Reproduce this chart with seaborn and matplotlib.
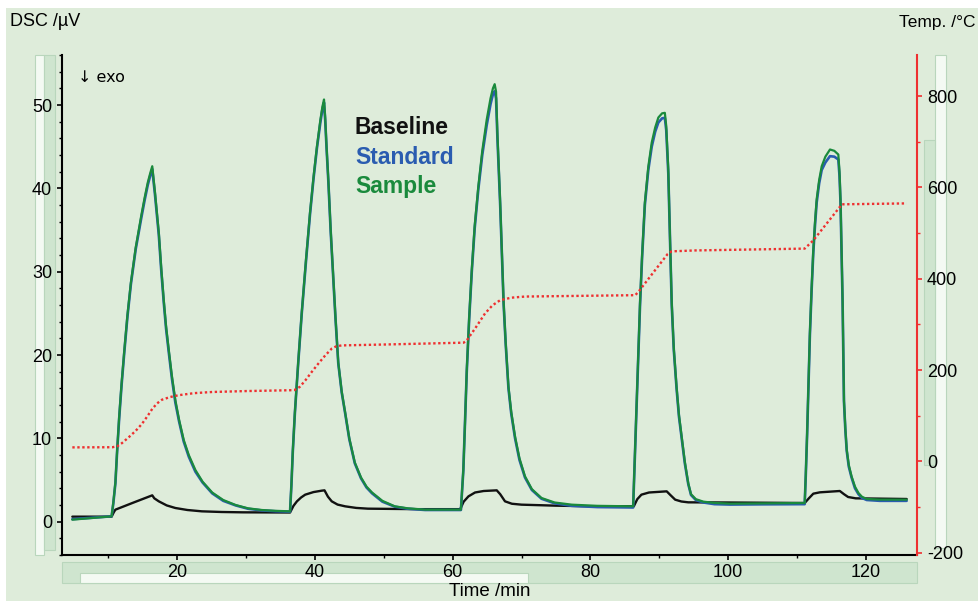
import matplotlib
matplotlib.use("Agg")
import matplotlib.pyplot as plt
from matplotlib.patches import Rectangle
from matplotlib.ticker import MultipleLocator
import seaborn as sns
import pandas as pd

# ---------------- data ----------------
t_dsc = [4.8, 10.5, 10.75, 11.05, 11.3, 11.6, 11.95, 12.35, 12.8, 13.3, 14.0, 14.8, 15.3, 15.75, 16.1, 16.4,
         16.8, 17.35, 17.7, 18.07, 18.4, 18.8, 19.25, 19.75, 20.3, 20.97, 21.7, 22.66, 23.7, 25.1, 26.7, 28.5,
         30.3, 32.3, 34.3, 36.4,
         36.6, 36.8, 37.1, 37.6, 38.1, 38.7, 39.3, 39.8, 40.3, 40.8, 41.1, 41.33, 41.5, 41.7, 41.96, 42.3, 42.7,
         43.0, 43.4, 43.9, 44.4, 45.0, 45.8, 46.7, 47.5, 48.3, 49.8, 51.6, 53.5, 56.0, 61.2,
         61.35, 61.55, 61.8, 62.05, 62.4, 62.78, 63.2, 63.73, 64.3, 64.95, 65.5, 65.85, 66.1, 66.3, 66.5, 66.9,
         67.4, 67.7, 68.1, 68.5, 69.06, 69.7, 70.5, 71.5, 72.9, 74.8, 77.3, 81.0, 86.2,
         86.35, 86.5, 86.7, 86.95, 87.2, 87.5, 87.9, 88.4, 88.9, 89.4, 89.86, 90.4, 90.8, 91.0, 91.3, 91.55,
         91.8, 92.1, 92.5, 92.85, 93.25, 93.7, 94.2, 94.6, 95.3, 96.4, 98.0, 100.3, 105.0, 111.1,
         111.25, 111.45, 111.65, 111.85, 112.1, 112.35, 112.6, 112.84, 113.2, 113.57, 114.1, 114.77, 115.4,
         115.98, 116.15, 116.3, 116.45, 116.6, 116.7, 116.8, 117.0, 117.2, 117.5, 117.9, 118.4, 118.9, 119.4,
         120.1, 122.0, 125.9]

sample = [0.24, 0.64, 2.3, 4.7, 8.5, 12.6, 16.6, 20.6, 24.8, 28.7, 32.9, 36.7, 38.9, 40.7, 41.8, 42.65,
          39.5, 34.7, 30.5, 26.6, 23.5, 20.6, 17.5, 14.6, 12.2, 9.8, 8.0, 6.2, 4.8, 3.5, 2.6, 2.0,
          1.6, 1.4, 1.3, 1.24,
          4.5, 8.5, 13.1, 19.3, 25.1, 31.3, 37.1, 41.3, 45.0, 48.2, 49.8, 50.66, 48.5, 45.0, 41.0, 35.0, 29.0,
          24.5, 19.1, 15.6, 13.1, 10.0, 7.1, 5.3, 4.2, 3.5, 2.5, 1.84, 1.6, 1.44, 1.44,
          3.5, 6.2, 12.0, 18.2, 24.5, 30.25, 35.5, 40.25, 44.5, 48.26, 50.8, 52.0, 52.5, 51.6, 46.5, 38.3,
          26.3, 21.5, 16.2, 13.2, 10.2, 7.6, 5.44, 3.9, 2.84, 2.3, 2.04, 1.9, 1.84,
          5.5, 9.5, 14.3, 20.5, 26.3, 32.0, 38.3, 42.6, 45.5, 47.3, 48.5, 49.0, 49.06, 47.5, 42.3, 34.0,
          26.3, 20.8, 16.2, 12.8, 10.2, 7.2, 4.6, 3.3, 2.7, 2.4, 2.25, 2.16, 2.2, 2.24,
          5.5, 10.6, 16.6, 22.6, 28.0, 32.65, 36.0, 38.7, 41.0, 42.65, 43.8, 44.66, 44.5,
          44.06, 42.0, 38.66, 32.5, 26.65, 20.5, 14.6, 11.2, 8.64, 6.8, 5.44, 4.2, 3.44, 3.0,
          2.72, 2.65, 2.64]

standard = [0.3, 0.64, 2.2, 4.6, 8.4, 12.4, 16.4, 20.4, 24.6, 28.5, 32.7, 36.4, 38.6, 40.4, 41.5, 42.3,
            39.2, 34.4, 30.2, 26.3, 23.2, 20.3, 17.2, 14.3, 12.0, 9.6, 7.8, 6.0, 4.7, 3.4, 2.5, 1.95,
            1.55, 1.35, 1.25, 1.2,
            4.4, 8.4, 13.0, 19.2, 25.0, 31.1, 36.9, 41.1, 44.8, 47.9, 49.5, 50.3, 48.2, 44.8, 40.8, 34.8, 28.8,
            24.3, 19.0, 15.5, 13.0, 9.9, 7.0, 5.2, 4.1, 3.4, 2.4, 1.8, 1.55, 1.4, 1.4,
            3.4, 6.1, 11.9, 18.0, 24.3, 30.0, 35.2, 39.9, 44.0, 47.6, 50.1, 51.3, 51.65, 50.8, 46.0, 38.0,
            26.1, 21.3, 16.0, 13.0, 10.0, 7.4, 5.3, 3.8, 2.75, 2.2, 1.9, 1.75, 1.7,
            5.4, 9.4, 14.1, 20.3, 26.0, 31.7, 38.0, 42.2, 45.0, 46.8, 47.9, 48.4, 48.46, 47.0, 41.8, 33.7,
            26.0, 20.6, 16.0, 12.6, 10.0, 7.0, 4.5, 3.2, 2.6, 2.3, 2.1, 2.05, 2.08, 2.1,
            5.4, 10.4, 16.4, 22.3, 27.7, 32.3, 35.6, 38.3, 40.6, 42.2, 43.1, 43.86, 43.8,
            43.46, 41.5, 38.2, 32.2, 26.3, 20.3, 14.4, 11.0, 8.5, 6.6, 5.3, 4.0, 3.3, 2.85,
            2.6, 2.5, 2.5]

t_base = [4.8, 10.5, 10.8, 11.05, 13.7, 16.4, 16.7, 17.35, 18.5, 19.75, 21.5, 23.6, 26.5, 29.6, 36.4,
          36.9, 37.4, 38.0, 38.6, 39.8, 41.0, 41.4, 41.9, 42.45, 43.3, 44.4, 46.0, 47.7, 55.0, 61.1,
          61.6, 62.3, 63.25, 64.5, 66.4, 66.9, 67.6, 68.6, 70.0, 75.0, 80.0, 86.3,
          86.8, 87.4, 88.5, 91.07, 91.6, 92.3, 93.2, 94.2, 100.0, 111.1,
          111.7, 112.35, 113.3, 116.2, 116.8, 117.4, 118.5, 125.9]
baseline = [0.6, 0.6, 1.1, 1.44, 2.3, 3.16, 2.8, 2.44, 1.95, 1.64, 1.4, 1.24, 1.16, 1.12, 1.1,
            1.9, 2.44, 2.9, 3.24, 3.55, 3.72, 3.76, 3.0, 2.44, 2.05, 1.84, 1.65, 1.56, 1.5, 1.5,
            2.4, 3.04, 3.5, 3.68, 3.76, 3.3, 2.44, 2.15, 2.04, 1.92, 1.85, 1.85,
            2.7, 3.24, 3.5, 3.64, 3.2, 2.64, 2.42, 2.32, 2.3, 2.24,
            2.8, 3.36, 3.52, 3.68, 3.3, 2.96, 2.8, 2.72]

t_temp = [4.8, 10.6, 11.3, 12.0, 13.0, 14.0, 14.9, 15.7, 16.4, 17.1, 17.8, 19.0, 20.25, 22.5, 25.1, 30.0,
          37.0, 37.8, 38.6, 39.5, 40.5, 41.5, 42.45, 43.1, 43.9, 50.2, 61.6,
          62.05, 63.3, 64.7, 65.8, 66.9, 68.5, 70.5, 86.5,
          87.0, 89.4, 91.2, 91.8, 95.2, 111.1,
          112.35, 116.5, 125.9]
temperature = [30.7, 31.0, 33.0, 40.0, 53.0, 67.0, 82.0, 99.0, 115.0, 127.0, 135.0, 141.0, 145.0, 149.5, 152.0,
               154.0, 156.0, 163.0, 177.0, 195.0, 214.0, 232.0, 247.0, 252.0, 254.0, 256.0, 260.0,
               265.0, 292.0, 324.0, 342.0, 353.0, 358.5, 361.0, 364.0,
               372.0, 419.0, 454.0, 460.0, 462.0, 466.0,
               484.0, 563.0, 565.0]

legend_labels = ["Baseline", "Standard", "Sample"]
x_ticks = [20, 40, 60, 80, 100, 120]
y_ticks = [0, 10, 20, 30, 40, 50]
y2_ticks = [-200, 0, 200, 400, 600, 800]

# ---------------- styling ----------------
BG = "#deecda"
STRIP = "#cfe5cf"
STRIP_EDGE = "#b9d6bc"
WHITE_BAR = "#f4faf3"
C_BASE = "#111111"
C_STD = "#2a5cb0"
C_SMP = "#1a8a3c"
C_TEMP = "#ee3030"
FONT = "Liberation Sans"

W, H = 979, 601
fig = plt.figure(figsize=(W / 100, H / 100), dpi=100)
fig.patch.set_facecolor(BG)


def prect(x0, y0, x1, y1, fc, ec=None):
    fig.patches.append(Rectangle((x0 / W, 1 - y1 / H), (x1 - x0) / W, (y1 - y0) / H,
                                 transform=fig.transFigure, facecolor=fc,
                                 edgecolor=ec if ec else "none", linewidth=0.8, zorder=-5))


# white frame at top/left
prect(0, 0, W, 8, "white")
prect(0, 0, 6, H, "white")
# decorative scroll strips
prect(35, 55, 44, 555, WHITE_BAR, STRIP_EDGE)
prect(44, 55, 55, 550, STRIP, STRIP_EDGE)
prect(62, 562, 917, 583, STRIP, STRIP_EDGE)
prect(80, 573, 528, 583, WHITE_BAR, STRIP_EDGE)
prect(935, 55, 946, 548, WHITE_BAR, STRIP_EDGE)
prect(924, 140, 935, 465, STRIP, STRIP_EDGE)

ax = fig.add_axes([62 / W, (H - 555) / H, (917 - 62) / W, 500 / H])
ax.set_facecolor(BG)
ax2 = ax.twinx()

df_b = pd.DataFrame({"t": t_base, "v": baseline})
df_s = pd.DataFrame({"t": t_dsc, "std": standard, "smp": sample})
df_t = pd.DataFrame({"t": t_temp, "T": temperature})

sns.lineplot(data=df_b, x="t", y="v", ax=ax, color=C_BASE, lw=1.7, estimator=None, sort=False, legend=False)
sns.lineplot(data=df_s, x="t", y="std", ax=ax, color=C_STD, lw=1.9, estimator=None, sort=False, legend=False)
sns.lineplot(data=df_s, x="t", y="smp", ax=ax, color=C_SMP, lw=1.6, estimator=None, sort=False, legend=False)
sns.lineplot(data=df_t, x="t", y="T", ax=ax2, color=C_TEMP, lw=1.7, estimator=None, sort=False, legend=False)
ax2.lines[0].set_dashes((1, 1.1))
for ln in ax.lines:
    ln.set_solid_joinstyle("round")
    ln.set_solid_capstyle("round")

ax.set_xlim(3.3, 127.4)
ax.set_ylim(-4, 56)
ax2.set_ylim(-205, 890)

ax.set_xticks(x_ticks)
ax.set_xticklabels([str(v) for v in x_ticks])
ax.set_yticks(y_ticks)
ax.set_yticklabels([str(v) for v in y_ticks])
ax2.set_yticks(y2_ticks)
ax2.set_yticklabels([str(v) for v in y2_ticks])
ax.xaxis.set_minor_locator(MultipleLocator(10))
ax.yaxis.set_minor_locator(MultipleLocator(2))
ax2.yaxis.set_minor_locator(MultipleLocator(100))

ax.set_xlabel("")
ax.set_ylabel("")
ax2.set_ylabel("")

for a in (ax, ax2):
    for s in a.spines.values():
        s.set_visible(False)
ax.spines["left"].set_visible(True)
ax.spines["bottom"].set_visible(True)
ax.spines["left"].set_linewidth(1.5)
ax.spines["bottom"].set_linewidth(1.5)
ax.spines["left"].set_color("black")
ax.spines["bottom"].set_color("black")
ax2.spines["right"].set_visible(True)
ax2.spines["right"].set_color(C_TEMP)
ax2.spines["right"].set_linewidth(1.5)

ax.tick_params(axis="both", which="major", direction="out", length=3.6, width=1.2, colors="black",
               labelsize=13, pad=3)
ax.tick_params(axis="both", which="minor", direction="out", length=2.2, width=1.0, colors="black")
ax.tick_params(axis="y", which="major", pad=3.6)
ax2.tick_params(axis="y", which="major", direction="out", length=3.6, width=1.2, color=C_TEMP,
                labelcolor="black", labelsize=13, pad=3.6)
ax2.tick_params(axis="y", which="minor", direction="out", length=2.2, width=1.0, color=C_TEMP)
for lab in ax.get_xticklabels() + ax.get_yticklabels() + ax2.get_yticklabels():
    lab.set_fontfamily(FONT)


def ftext(x, y, s, **kw):
    fig.text(x / W, 1 - y / H, s, **kw)


ftext(10, 22, "DSC /µV", fontsize=13, family=FONT, va="center", ha="left")
ftext(976, 22, "Temp. /°C", fontsize=12.5, family=FONT, va="center", ha="right")
ftext(78, 78, "↓ exo", fontsize=11.5, family=["DejaVu Sans"], va="center", ha="left")
ftext(490, 592, "Time /min", fontsize=13.5, family=FONT, va="center", ha="center")

for lab, col, yy in zip(legend_labels, [C_BASE, C_STD, C_SMP], [127, 157, 187]):
    ftext(355, yy, lab, fontsize=16.5, family=FONT, fontweight="bold", color=col, va="center", ha="left")

fig.savefig("out.png", dpi=100, facecolor=fig.get_facecolor())
